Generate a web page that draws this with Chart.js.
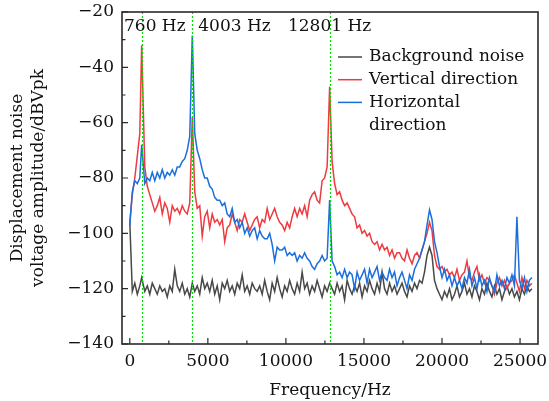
<!DOCTYPE html>
<html>
<head>
<meta charset="utf-8">
<title>Displacement noise spectrum</title>
<script src="https://cdn.jsdelivr.net/npm/chart.js@4.4.0/dist/chart.umd.min.js"></script>
<style>
  html, body { margin: 0; padding: 0; background: #fff; }
  canvas { display: block; }
</style>
</head>
<body>
<canvas id="noiseChart" width="549" height="401"></canvas>
<script>
// frequency bins (Hz)
const freqHz = [
  0, 160, 320, 480, 640, 760, 960, 1120, 1280, 1440,
  1600, 1760, 1920, 2080, 2240, 2400, 2560, 2720, 2880, 3040,
  3200, 3360, 3520, 3680, 3840, 4003, 4160, 4320, 4480, 4640,
  4800, 4960, 5120, 5280, 5440, 5600, 5760, 5920, 6080, 6240,
  6400, 6560, 6720, 6880, 7040, 7200, 7360, 7520, 7680, 7840,
  8000, 8160, 8320, 8480, 8640, 8800, 8960, 9120, 9280, 9440,
  9600, 9760, 9920, 10080, 10240, 10400, 10560, 10720, 10880, 11040,
  11200, 11360, 11520, 11680, 11840, 12000, 12160, 12320, 12480, 12640,
  12801, 12960, 13120, 13280, 13440, 13600, 13760, 13920, 14080, 14240,
  14400, 14560, 14720, 14880, 15040, 15200, 15360, 15520, 15680, 15840,
  16000, 16160, 16320, 16480, 16640, 16800, 16960, 17120, 17280, 17440,
  17600, 17760, 17920, 18080, 18240, 18400, 18560, 18720, 18880, 19040,
  19200, 19360, 19520, 19680, 19840, 20000, 20160, 20320, 20480, 20640,
  20800, 20960, 21120, 21280, 21440, 21600, 21760, 21920, 22080, 22240,
  22400, 22560, 22720, 22880, 23040, 23200, 23360, 23520, 23680, 23840,
  24000, 24160, 24320, 24480, 24640, 24800, 24960, 25120, 25280, 25440,
  25600, 25760
];

// dBVpk
const backgroundNoise = [
  -96, -121, -118, -122, -119, -116, -121, -119, -122, -118,
  -120, -122, -119, -121, -120, -123, -119, -121, -113, -119,
  -121, -118, -122, -120, -123, -118, -121, -119, -122, -116,
  -120, -118, -121, -117, -122, -119, -124, -118, -120, -117,
  -121, -119, -122, -118, -120, -115, -121, -119, -122, -118,
  -120, -121, -119, -122, -117, -121, -124, -118, -121, -116,
  -120, -123, -119, -121, -117, -120, -122, -118, -121, -114,
  -120, -118, -122, -119, -121, -117, -120, -123, -119, -121,
  -118, -120, -122, -118, -121, -119, -124, -117, -120, -122,
  -119, -121, -118, -123, -119, -121, -117, -120, -122, -118,
  -121, -114, -120, -122, -118, -121, -119, -122, -120, -118,
  -121, -123, -119, -121, -118, -120, -117, -118, -114, -108,
  -105, -108, -117, -120, -122, -124, -121, -123, -120, -124,
  -122, -119, -123, -121, -118, -122, -120, -123, -119, -121,
  -124, -120, -122, -118, -121, -123, -119, -122, -120, -124,
  -121, -119, -122, -120, -123, -121, -124, -120, -122, -119,
  -121, -120
];

const verticalDir = [
  -96, -86, -80, -72, -64, -32, -76, -83, -86, -89,
  -92, -90, -87, -93, -89, -91, -96, -90, -92, -91,
  -93, -90, -92, -93, -89, -58, -85, -91, -90, -101,
  -94, -92, -98, -93, -96, -95, -97, -95, -103, -98,
  -97, -93, -96, -99, -95, -96, -93, -96, -99, -97,
  -95, -94, -98, -95, -96, -91, -95, -93, -91, -94,
  -96, -97, -99, -96, -98, -94, -91, -94, -91, -93,
  -90, -94, -88, -86, -85, -88, -89, -81, -80, -76,
  -47, -74, -82, -86, -85, -88, -90, -89, -91, -93,
  -94, -98, -97, -100, -99, -101, -100, -103, -104, -103,
  -106, -104, -106, -105, -108, -106, -109, -107, -107, -109,
  -110, -106, -109, -111, -108, -107, -109, -106, -103, -100,
  -96, -99, -108, -112, -113, -112, -114, -113, -115, -114,
  -116, -113, -117, -115, -114, -110, -116, -117, -114, -112,
  -117, -115, -118, -116, -117, -119, -122, -118, -116, -119,
  -117, -120, -118, -117, -115, -118, -121, -116, -120, -117,
  -119, -118
];

const horizontalDir = [
  -97, -85, -81, -82, -80, -68, -82, -80, -81, -78,
  -81, -78, -80, -77, -80, -78, -79, -77, -79, -76,
  -76, -74, -73, -70, -65, -28.5, -64, -70, -73, -77,
  -80, -80, -83, -84, -87, -88, -88, -90, -89, -93,
  -94, -91, -96, -95, -98, -96, -100, -98, -101, -99,
  -98, -102, -99, -101, -102, -102, -100, -104, -110, -105,
  -106, -106, -105, -108, -107, -108, -107, -110, -108, -109,
  -107, -109, -110, -112, -113, -111, -110, -108, -110, -109,
  -88, -110, -112, -115, -114, -116, -113, -116, -114, -115,
  -120, -114, -117, -115, -113, -118, -113, -116, -114, -112,
  -117, -114, -116, -117, -113, -116, -114, -119, -116, -114,
  -117, -120, -115, -117, -113, -111, -109, -106, -103, -97,
  -91.5, -95, -103, -107, -112, -116, -113, -117, -115, -119,
  -116, -119, -117, -120, -116, -118, -113, -119, -116, -120,
  -115, -119, -117, -121, -116, -119, -121, -115, -119, -117,
  -120, -116, -118, -115, -119, -94, -117, -120, -116, -121,
  -117, -116
];

const markerFreqs = [760, 4003, 12801];
const markerLabels = ['760 Hz', '4003 Hz', '12801 Hz'];
const legendLabels = [['Background noise'], ['Vertical direction'], ['Horizontal', 'direction']];
const xTickValues = [0, 5000, 10000, 15000, 20000, 25000];
const yTickValues = [-140, -120, -100, -80, -60, -40, -20];

const FONT = "'DejaVu Serif', serif";
const FONT_SIZE = 17;
const colors = ['#484848', '#ef3a40', '#1b6fdb'];

const toPoints = vals => freqHz.map((f, i) => ({ x: f, y: vals[i] }));

// frame + inward ticks, dotted markers, legend
const decorations = {
  id: 'decorations',
  afterDatasetsDraw(chart) {
    const { ctx, chartArea: a, scales: { x, y } } = chart;
    ctx.save();

    // green dotted lines
    ctx.strokeStyle = '#00e000';
    ctx.lineWidth = 1.2;
    ctx.setLineDash([2, 2]);
    markerFreqs.forEach(f => {
      const px = Math.round(x.getPixelForValue(f)) + 0.5;
      ctx.beginPath();
      ctx.moveTo(px, a.top);
      ctx.lineTo(px, a.bottom);
      ctx.stroke();
    });
    ctx.setLineDash([]);

    // marker labels
    ctx.fillStyle = '#111';
    ctx.font = FONT_SIZE + 'px ' + FONT;
    ctx.textBaseline = 'middle';
    ctx.textAlign = 'left';
    markerLabels.forEach((t, i) => {
      const px = x.getPixelForValue(markerFreqs[i]);
      let tx;
      if (i === 0) tx = a.left + 2;
      else if (i === 1) tx = px + 6;
      else tx = px - ctx.measureText(t).width / 2;
      ctx.fillText(t, tx, a.top + 15);
    });

    // frame
    ctx.strokeStyle = '#2a2a2a';
    ctx.lineWidth = 1.6;
    ctx.strokeRect(a.left, a.top, a.right - a.left, a.bottom - a.top);

    // ticks (inward)
    ctx.lineWidth = 1.2;
    ctx.beginPath();
    for (let v = 0; v <= 25000; v += 2500) {
      const px = x.getPixelForValue(v);
      const len = v % 5000 === 0 ? 6 : 3.5;
      ctx.moveTo(px, a.bottom);
      ctx.lineTo(px, a.bottom - len);
    }
    for (let v = -140; v <= -20; v += 10) {
      const py = y.getPixelForValue(v);
      const len = v % 20 === 0 ? 6 : 3.5;
      ctx.moveTo(a.left, py);
      ctx.lineTo(a.left + len, py);
    }
    ctx.stroke();

    // legend
    let row = 0;
    legendLabels.forEach((lines, i) => {
      const ly = a.top + 45 + row * 22.7;
      ctx.strokeStyle = colors[i];
      ctx.lineWidth = 1.5;
      ctx.beginPath();
      ctx.moveTo(a.right - 200, ly);
      ctx.lineTo(a.right - 176, ly);
      ctx.stroke();
      ctx.fillStyle = '#111';
      lines.forEach((t, k) => {
        ctx.fillText(t, a.right - 169, ly + k * 22.7);
      });
      row += lines.length;
    });

    ctx.restore();
  }
};

new Chart(document.getElementById('noiseChart'), {
  type: 'line',
  data: {
    datasets: [
      { label: 'Horizontal direction', data: toPoints(horizontalDir), borderColor: colors[2], order: 0 },
      { label: 'Vertical direction', data: toPoints(verticalDir), borderColor: colors[1], order: 1 },
      { label: 'Background noise', data: toPoints(backgroundNoise), borderColor: colors[0], order: 2 }
    ]
  },
  options: {
    responsive: false,
    animation: false,
    events: [],
    layout: { padding: { top: 12, right: 11, left: 0, bottom: 0 } },
    elements: {
      point: { radius: 0 },
      line: { borderWidth: 1.5, tension: 0, fill: false }
    },
    plugins: {
      legend: { display: false },
      tooltip: { enabled: false }
    },
    scales: {
      x: {
        type: 'linear',
        min: -500,
        max: 26150,
        afterBuildTicks: s => { s.ticks = xTickValues.map(v => ({ value: v })); },
        afterFit: s => { s.height = 57; s.paddingLeft = 0; s.paddingRight = 0; },
        grid: { display: false, drawTicks: false },
        border: { display: false },
        ticks: {
          color: '#111',
          padding: 7,
          maxRotation: 0,
          font: { family: FONT, size: FONT_SIZE },
          callback: v => String(v)
        },
        title: {
          display: true,
          text: 'Frequency/Hz',
          color: '#111',
          font: { family: FONT, size: FONT_SIZE },
          padding: { top: 0, bottom: 0 }
        }
      },
      y: {
        min: -140,
        max: -20,
        afterBuildTicks: s => { s.ticks = yTickValues.map(v => ({ value: v })); },
        afterFit: s => { s.width = 122; s.paddingTop = 0; s.paddingBottom = 0; },
        grid: { display: false, drawTicks: false },
        border: { display: false },
        ticks: {
          color: '#111',
          padding: 8,
          font: { family: FONT, size: FONT_SIZE },
          callback: v => (v < 0 ? '\u2212' + Math.abs(v) : String(v))
        },
        title: {
          display: true,
          text: ['Displacement noise', 'voltage amplitude/dBVpk'],
          color: '#111',
          font: { family: FONT, size: FONT_SIZE, lineHeight: 1.18 },
          padding: { top: 8, bottom: 0 }
        }
      }
    }
  },
  plugins: [decorations]
});
</script>
</body>
</html>
